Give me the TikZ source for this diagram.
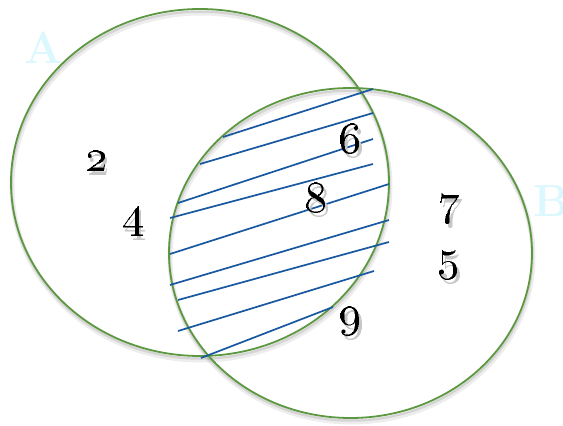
\documentclass[tikz,border=0pt]{standalone}
\usepackage{graphicx}
\definecolor{vgreen}{RGB}{92,152,64}
\definecolor{vblue}{RGB}{24,88,160}
\definecolor{vcyan}{RGB}{218,248,254}
\newcommand\vdigit[1]{\scalebox{4.5}{%
  \makebox[0pt][l]{\kern0.5pt\raisebox{-0.75pt}{\color{black!22}\oldstylenums{#1}}}%
  \oldstylenums{#1}}}
\begin{document}
\begin{tikzpicture}[x=1pt,y=-1pt,
  venn/.style={draw=vgreen, line width=1.8pt},
  vshadow/.style={draw=black, line width=5pt, opacity=0.07},
  hatchline/.style={draw=vblue, line width=1.7pt},
  numlabel/.style={inner sep=0pt, text=black},
  setlabel/.style={inner sep=0pt, text=vcyan, font=\fontsize{45}{50}\selectfont\bfseries}]
\useasboundingbox (0,0) rectangle (563,426);
\fill[white] (0,0) rectangle (563,426);
% set labels
\node[setlabel] (A) at (44,48) {A};
\node[setlabel] (B) at (551,201) {B};
% circle shadows
\draw[vshadow] (201,186.5) ellipse [x radius=189, y radius=173.5];
\draw[vshadow] (351.5,257) ellipse [x radius=181.5, y radius=165];
\draw[vshadow, line width=2.5pt, opacity=0.10] (200.5,185) ellipse [x radius=189, y radius=173.5];
\draw[vshadow, line width=2.5pt, opacity=0.10] (351,255.5) ellipse [x radius=181.5, y radius=165];
% circles
\draw[venn] (200,182.5) ellipse [x radius=189, y radius=173.5];
\draw[venn] (350.5,253) ellipse [x radius=181.5, y radius=165];
% hatch lines
\draw[hatchline] (223,137) -- (373,89);
\draw[hatchline] (200,164) -- (373,113);
\draw[hatchline] (178,203) -- (373,139);
\draw[hatchline] (170,218) -- (373,164);
\draw[hatchline] (170,254) -- (389,184);
\draw[hatchline] (170,285) -- (389,220);
\draw[hatchline] (178,300) -- (389,242);
\draw[hatchline] (178,331) -- (374,271);
\draw[hatchline] (201,358) -- (333,307);
% numbers
\node[numlabel] (n2) at (96.5,162.5) {\vdigit{2}};
\node[numlabel] (n4) at (133.5,224) {\vdigit{4}};
\node[numlabel] (n6) at (350,140) {\vdigit{6}};
\node[numlabel] (n8) at (316,199) {\vdigit{8}};
\node[numlabel] (n7) at (449,211) {\vdigit{7}};
\node[numlabel] (n5) at (449,267) {\vdigit{5}};
\node[numlabel] (n9) at (350,323) {\vdigit{9}};
\end{tikzpicture}
\end{document}
